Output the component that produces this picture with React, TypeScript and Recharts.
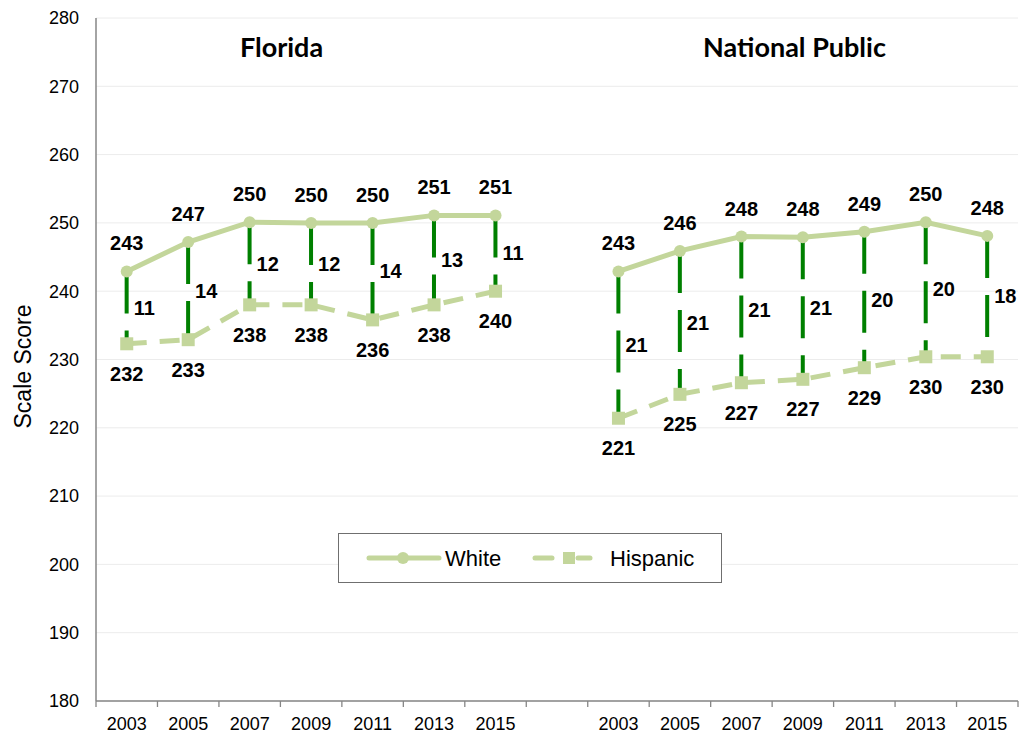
import React from 'react';
import { ComposedChart, Line, Bar, XAxis, YAxis, CartesianGrid, LabelList, Legend } from 'recharts';

const years = ['2003', '2005', '2007', '2009', '2011', '2013', '2015'];
const floridaWhite = [242.9, 247.2, 250.1, 250.0, 250.0, 251.1, 251.1];
const floridaHispanic = [232.3, 232.9, 238.0, 238.0, 235.8, 238.0, 240.0];
const floridaGap = [11, 14, 12, 12, 14, 13, 11];
const nationalWhite = [242.9, 245.9, 248.0, 247.9, 248.7, 250.1, 248.1];
const nationalHispanic = [221.4, 224.9, 226.6, 227.1, 228.8, 230.4, 230.4];
const nationalGap = [21, 21, 21, 21, 20, 20, 18];
const yTicks = [180, 190, 200, 210, 220, 230, 240, 250, 260, 270, 280];
const panelTitles = ['Florida', 'National Public'];
const seriesNames = ['White', 'Hispanic'];

const LIGHT = '#c3d69b';
const DARK = '#008000';
const AXIS = '#868686';
const FONT = '"Liberation Sans", Arial, sans-serif';
const TICK_SIZE = 6;
const TICK_MARGIN = 10;

type Row = {
  key: string;
  white: number | null;
  hispanic: number | null;
  range: [number, number] | null;
  gap: number | null;
};

const buildRows = (prefix: string, w: number[], h: number[], g: number[]): Row[] =>
  years.map((y, i) => ({ key: `${prefix}-${y}`, white: w[i], hispanic: h[i], range: [h[i], w[i]], gap: g[i] }));

const rows: Row[] = [
  ...buildRows('FL', floridaWhite, floridaHispanic, floridaGap),
  { key: 'blank', white: null, hispanic: null, range: null, gap: null },
  ...buildRows('NP', nationalWhite, nationalHispanic, nationalGap),
];

const GapShape = (props: any) => {
  const { x, y, width, height } = props;
  if (x == null || y == null || height == null || !isFinite(height)) return <g />;
  const cx = x + width / 2;
  const top = Math.min(y, y + height);
  const bottom = Math.max(y, y + height);
  return <line x1={cx} x2={cx} y1={top} y2={bottom} stroke={DARK} strokeWidth={4} strokeDasharray="42 17" />;
};

const getBox = (props: any) => {
  const vb = props.viewBox || {};
  return {
    x: props.x ?? vb.x,
    y: props.y ?? vb.y,
    width: props.width ?? vb.width ?? 0,
    height: props.height ?? vb.height ?? 0,
  };
};

const renderGapLabel = (props: any) => {
  const { value } = props;
  if (value == null) return null;
  const b = getBox(props);
  if (b.x == null || b.y == null) return null;
  return (
    <text x={b.x + b.width / 2 + 7} y={b.y + b.height / 2} textAnchor="start" dominantBaseline="central"
      fontFamily={FONT} fontWeight="bold" fontSize={20} fill="#000">
      {value}
    </text>
  );
};

const makePointLabel = (dy: number) => (props: any) => {
  const { value } = props;
  if (value == null) return null;
  const b = getBox(props);
  if (b.x == null || b.y == null) return null;
  return (
    <text x={b.x} y={b.y + dy} textAnchor="middle" dominantBaseline="central"
      fontFamily={FONT} fontWeight="bold" fontSize={20} fill="#000">
      {Math.round(value)}
    </text>
  );
};

const SquareDot = (props: any) => {
  const { cx, cy, index } = props;
  if (cx == null || cy == null || !isFinite(cy)) return <g key={`sq-${index}`} />;
  return <rect key={`sq-${index}`} x={cx - 6.5} y={cy - 6.5} width={13} height={13} fill={LIGHT} />;
};

const CategoryTick = (props: any) => {
  const { x, y, payload, index, visibleTicksCount, width } = props;
  const half =
    payload && typeof payload.offset === 'number' && payload.offset > 0
      ? payload.offset
      : (width || 0) / (visibleTicksCount || 1) / 2;
  const axisY = y - TICK_SIZE - TICK_MARGIN;
  const k: string = payload?.value ?? '';
  const label = k.includes('-') ? k.split('-')[1] : '';
  const isLast = index === (visibleTicksCount || 0) - 1;
  return (
    <g>
      <line x1={x - half} x2={x - half} y1={axisY} y2={axisY + TICK_SIZE} stroke={AXIS} strokeWidth={1.3} />
      {isLast && <line x1={x + half} x2={x + half} y1={axisY} y2={axisY + TICK_SIZE} stroke={AXIS} strokeWidth={1.3} />}
      <text x={x} y={y} dy="0.71em" textAnchor="middle" fontFamily={FONT} fontSize={18} fill="#000">
        {label}
      </text>
    </g>
  );
};

const LegendBox = () => (
  <svg width={384} height={50} style={{ display: 'block' }}>
    <rect x={0.5} y={0.5} width={383} height={49} fill="#fff" stroke="#6f6f6f" strokeWidth={1} />
    <line x1={31} x2={101} y1={25} y2={25} stroke={LIGHT} strokeWidth={5} strokeLinecap="round" />
    <circle cx={65} cy={25} r={6} fill={LIGHT} />
    <text x={107} y={25} dominantBaseline="central" fontFamily={FONT} fontSize={22} fill="#000">{seriesNames[0]}</text>
    <line x1={197} x2={214} y1={25} y2={25} stroke={LIGHT} strokeWidth={5} strokeLinecap="round" />
    <rect x={225} y={19} width={12} height={12} fill={LIGHT} />
    <line x1={240} x2={252} y1={25} y2={25} stroke={LIGHT} strokeWidth={5} strokeLinecap="round" />
    <text x={272} y={25} dominantBaseline="central" fontFamily={FONT} fontSize={22} fill="#000">{seriesNames[1]}</text>
  </svg>
);

export default function App() {
  return (
    <div style={{ position: 'absolute', left: 0, top: 0, width: 1020, height: 733, background: '#fff' }}>
      <ComposedChart width={1020} height={733} data={rows} margin={{ top: 18, right: 2, left: 0, bottom: 0 }}>
        <CartesianGrid xAxisId="cat" vertical={false} stroke="#ececec" strokeWidth={1} />
        <XAxis xAxisId="cat" dataKey="key" interval={0} height={32}
          tick={<CategoryTick />}
          tickLine={false} tickSize={TICK_SIZE} tickMargin={TICK_MARGIN}
          axisLine={{ stroke: AXIS, strokeWidth: 1.5 }} />
        <YAxis domain={[180, 280]} ticks={yTicks} width={96} interval={0}
          tick={{ fill: '#000', fontSize: 18, fontFamily: FONT }}
          tickLine={false} tickSize={6} tickMargin={11}
          axisLine={{ stroke: AXIS, strokeWidth: 1.5 }} allowDataOverflow />
        <Line xAxisId="cat" name={seriesNames[0]} dataKey="white" stroke={LIGHT} strokeWidth={5}
          dot={{ r: 6, fill: LIGHT, stroke: LIGHT, strokeWidth: 0 }} activeDot={false}
          isAnimationActive={false} connectNulls={false}>
          <LabelList dataKey="white" content={makePointLabel(-28)} />
        </Line>
        <Line xAxisId="cat" name={seriesNames[1]} dataKey="hispanic" stroke={LIGHT} strokeWidth={5}
          strokeDasharray="20 13" dot={SquareDot} activeDot={false}
          isAnimationActive={false} connectNulls={false}>
          <LabelList dataKey="hispanic" content={makePointLabel(30)} />
        </Line>
        <Bar xAxisId="cat" dataKey="range" shape={GapShape} isAnimationActive={false} legendType="none">
          <LabelList dataKey="gap" content={renderGapLabel} />
        </Bar>
        <Legend layout="horizontal" verticalAlign="middle" align="center"
          wrapperStyle={{ left: 338, top: 533, width: 384, height: 50 }}
          content={() => <LegendBox />} />
      </ComposedChart>
      <svg width={1020} height={733} style={{ position: 'absolute', left: 0, top: 0, pointerEvents: 'none' }}>
        <text x={281.5} y={57} textAnchor="middle" fontFamily="Lato, sans-serif" fontWeight="bold" fontSize={27} fill="#000">
          {panelTitles[0]}
        </text>
        <text x={794.5} y={57} textAnchor="middle" fontFamily="Lato, sans-serif" fontWeight="bold" fontSize={27} fill="#000">
          {panelTitles[1]}
        </text>
        <text x={31} y={366.5} textAnchor="middle" transform="rotate(-90 31 366.5)" fontFamily={FONT} fontSize={23} fill="#000">
          Scale Score
        </text>
      </svg>
    </div>
  );
}
